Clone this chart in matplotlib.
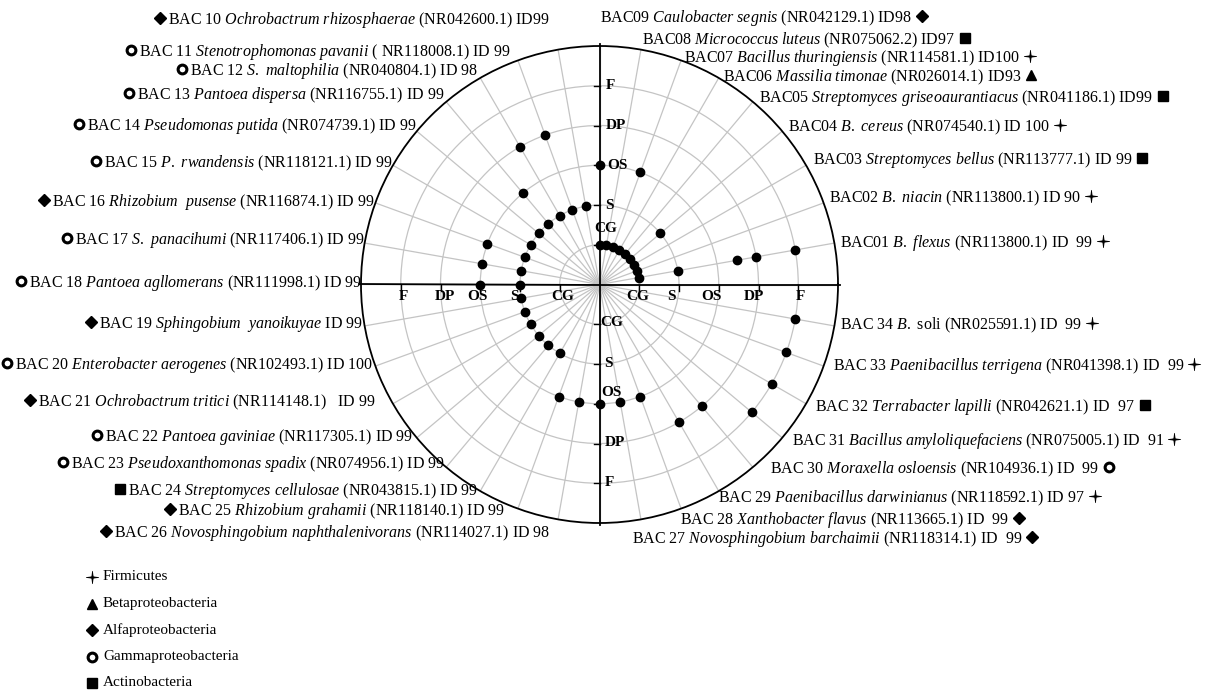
import numpy as np
import matplotlib.pyplot as plt
from matplotlib.path import Path

plt.rcParams['font.family'] = ['Liberation Serif', 'DejaVu Serif']
plt.rcParams['mathtext.fontset'] = 'custom'
plt.rcParams['mathtext.rm'] = 'Liberation Serif'
plt.rcParams['mathtext.it'] = 'Liberation Serif:italic'
plt.rcParams['mathtext.bf'] = 'Liberation Serif:bold'

# --- data -------------------------------------------------------------------
codes = ['BAC01', 'BAC02', 'BAC03', 'BAC04', 'BAC05', 'BAC06', 'BAC07', 'BAC08', 'BAC09',
         'BAC 10', 'BAC 11', 'BAC 12', 'BAC 13', 'BAC 14', 'BAC 15', 'BAC 16', 'BAC 17',
         'BAC 18', 'BAC 19', 'BAC 20', 'BAC 21', 'BAC 22', 'BAC 23', 'BAC 24', 'BAC 25',
         'BAC 26', 'BAC 27', 'BAC 28', 'BAC 29', 'BAC 30', 'BAC 31', 'BAC 32', 'BAC 33', 'BAC 34']
species = ['B. flexus', 'B. niacin', 'Streptomyces bellus', 'B. cereus',
           'Streptomyces griseoaurantiacus', 'Massilia timonae', 'Bacillus thuringiensis',
           'Micrococcus luteus', 'Caulobacter segnis', 'Ochrobactrum rhizosphaerae',
           'Stenotrophomonas pavanii', 'S. maltophilia', 'Pantoea dispersa', 'Pseudomonas putida',
           'P. rwandensis', 'Rhizobium  pusense', 'S. panacihumi', 'Pantoea agllomerans',
           'Sphingobium  yanoikuyae', 'Enterobacter aerogenes', 'Ochrobactrum tritici',
           'Pantoea gaviniae', 'Pseudoxanthomonas spadix', 'Streptomyces cellulosae',
           'Rhizobium grahamii', 'Novosphingobium naphthalenivorans', 'Novosphingobium barchaimii',
           'Xanthobacter flavus', 'Paenibacillus darwinianus', 'Moraxella osloensis',
           'Bacillus amyloliquefaciens', 'Terrabacter lapilli', 'Paenibacillus terrigena', 'B.']
species_tail = {'BAC 34': ' soli'}
accessions = ['(NR113800.1)', '(NR113800.1)', '(NR113777.1)', '(NR074540.1)', '(NR041186.1)',
              '(NR026014.1)', '(NR114581.1)', '(NR075062.2)', '(NR042129.1)', '(NR042600.1)',
              '( NR118008.1)', '(NR040804.1)', '(NR116755.1)', '(NR074739.1)', '(NR118121.1)',
              '(NR116874.1)', '(NR117406.1)', '(NR111998.1)', '', '(NR102493.1)',
              '(NR114148.1)', '(NR117305.1)', '(NR074956.1)', '(NR043815.1)', '(NR118140.1)',
              '(NR114027.1)', '(NR118314.1)', '(NR113665.1)', '(NR118592.1)', '(NR104936.1)',
              '(NR075005.1)', '(NR042621.1)', '(NR041398.1)', '(NR025591.1)']
identity = ['ID  99', 'ID 90', 'ID 99', 'ID 100', 'ID99', 'ID93', 'ID100', 'ID97', 'ID98',
            'ID99', 'ID 99', 'ID 98', 'ID 99', 'ID 99', 'ID 99', 'ID 99', 'ID 99', 'ID 99',
            'ID 99', 'ID 100', '   ID 99', 'ID 99', 'ID 99', 'ID 99', 'ID 99', 'ID 98',
            ' ID  99', ' ID  99', ' ID 97', ' ID  99', ' ID  91', ' ID  97', ' ID  99', ' ID  99']
phylum = ['Firmicutes', 'Firmicutes', 'Actinobacteria', 'Firmicutes', 'Actinobacteria',
          'Betaproteobacteria', 'Firmicutes', 'Actinobacteria', 'Alfaproteobacteria',
          'Alfaproteobacteria', 'Gammaproteobacteria', 'Gammaproteobacteria',
          'Gammaproteobacteria', 'Gammaproteobacteria', 'Gammaproteobacteria',
          'Alfaproteobacteria', 'Gammaproteobacteria', 'Gammaproteobacteria',
          'Alfaproteobacteria', 'Gammaproteobacteria', 'Alfaproteobacteria',
          'Gammaproteobacteria', 'Gammaproteobacteria', 'Actinobacteria', 'Alfaproteobacteria',
          'Alfaproteobacteria', 'Alfaproteobacteria', 'Alfaproteobacteria', 'Firmicutes',
          'Gammaproteobacteria', 'Firmicutes', 'Actinobacteria', 'Firmicutes', 'Firmicutes']
legend_order = ['Firmicutes', 'Betaproteobacteria', 'Alfaproteobacteria',
                'Gammaproteobacteria', 'Actinobacteria']

stages = ['CG', 'S', 'OS', 'DP', 'F']
# dots: spoke angle (deg) and stage level (1=CG ... 5=F)
dot_deg = [10, 10, 10, 10, 10, 20, 30, 40, 40, 50, 60, 70, 70, 80, 90, 90,
           100, 110, 110, 120, 120, 130, 130, 140, 150, 160, 160, 170, 170, 180, 180,
           190, 200, 210, 220, 230, 240, 250, 260, 270, 280, 290,
           300, 310, 320, 330, 340, 350]
dot_level = [1, 2, 3.5, 4, 5, 1, 1, 1, 2, 1, 1, 1, 3, 1, 1, 3,
             2, 2, 4, 2, 4, 2, 3, 2, 2, 2, 3, 2, 3, 2, 3,
             2, 2, 2, 2, 2, 2, 3, 3, 3, 3, 3,
             4, 4, 5, 5, 5, 5]

# --- layout -----------------------------------------------------------------
W, H = 1213, 691
cx, cy, unit = 599.5, 284.5, 39.75
rmax = 6
R = rmax * unit
fs = 11.5

# label anchors in pixels: (x, y, side)
label_pos = [(840, 243, 'r'), (829, 198, 'r'), (813, 160, 'r'), (788, 127, 'r'),
             (759, 98, 'r'), (723, 77, 'r'), (684, 58, 'r'), (642, 40, 'r'), (600, 18, 'r'),
             (550, 20, 'l'), (511, 52, 'l'), (478, 71, 'l'), (444, 95, 'l'), (417, 126, 'l'),
             (393, 163, 'l'), (375, 202, 'l'), (365, 240, 'l'), (362, 283, 'l'),
             (363, 324, 'l'), (373, 365, 'l'), (376, 402, 'l'), (413, 437, 'l'),
             (445, 464, 'l'), (478, 491, 'l'), (505, 511, 'l'), (550, 533, 'l'),
             (632, 539, 'r'), (680, 520, 'r'), (718, 498, 'r'), (770, 469, 'r'),
             (792, 441, 'r'), (815, 407, 'r'), (833, 366, 'r'), (840, 325, 'r')]
# stage label x nudges (px) on the right / left halves of the horizontal axis
right_nudge = [-2, -8, -7, -5, 2]
left_nudge = [3, -6, -3, 4, 3]

star = [(0.16 * np.sin(a) if i % 2 else np.sin(a), 0.16 * np.cos(a) if i % 2 else np.cos(a))
        for i, a in enumerate(np.radians(np.arange(0, 360, 45)))]
star = Path(np.array(star + [star[0]]), closed=True)
mstyle = {'Firmicutes': dict(marker=star, ms=9, mfc='black', mec='black', mew=0.5),
          'Betaproteobacteria': dict(marker='^', ms=7.5, mfc='black', mec='black'),
          'Alfaproteobacteria': dict(marker='D', ms=5.8, mfc='black', mec='black'),
          'Gammaproteobacteria': dict(marker='o', ms=6.3, mfc='white', mec='black', mew=2.2),
          'Actinobacteria': dict(marker='s', ms=7, mfc='black', mec='black')}

fig = plt.figure(figsize=(W / 100, H / 100), dpi=100)

# polar chart
axp = fig.add_axes([(cx - R) / W, (H - cy - R) / H, 2 * R / W, 2 * R / H], projection='polar')
axp.set_ylim(0, rmax)
axp.set_thetagrids(np.arange(0, 360, 10), labels=[''] * 36)
axp.set_rgrids([1, 2, 3, 4, 5], labels=[''] * 5)
axp.grid(color='#c4c4c4', lw=0.9)
axp.spines['polar'].set_linewidth(1.3)
axp.tick_params(axis='x', direction='inout', length=6, width=0.9, colors='black', pad=0)
axp.tick_params(axis='y', length=0)
for t in np.radians([0, 90, 180, 270]):
    axp.plot([t, t], [0, rmax + 0.05], color='black', lw=1.3, zorder=3, clip_on=False)
axp.plot(np.radians(dot_deg), dot_level, 'o', color='black', ms=6, zorder=4, clip_on=False)

# overlay for text
ax = fig.add_axes([0, 0, 1, 1], zorder=5)
ax.set_xlim(0, W)
ax.set_ylim(H, 0)
ax.axis('off')

# ring ticks and stage labels on the axes
bold = dict(fontsize=11, fontweight='bold', va='center')
for k, s in enumerate(stages, start=1):
    d = k * unit
    ax.plot([cx - 6, cx], [cy - d, cy - d], color='black', lw=1)
    ax.plot([cx - 6, cx], [cy + d, cy + d], color='black', lw=1)
    ax.plot([cx + d, cx + d], [cy, cy + 6], color='black', lw=1)
    ax.plot([cx - d, cx - d], [cy, cy + 6], color='black', lw=1)
    ax.text(cx + d + right_nudge[k - 1], cy + 12, s, ha='center', **bold)
    ax.text(cx - d + left_nudge[k - 1], cy + 12, s, ha='center', **bold)
    if s == 'CG':
        ax.text(cx + 6, cy - 1.4 * unit, s, ha='center', **bold)
        ax.text(cx + 1, cy + d - 2, s, ha='left', **bold)
    elif s == 'OS':
        ax.text(cx + 8, cy - d, s, ha='left', **bold)
        ax.text(cx + 2, cy + d - 11, s, ha='left', **bold)
    else:
        ax.text(cx + 6, cy - d, s, ha='left', **bold)
        ax.text(cx + 5, cy + d - 1, s, ha='left', **bold)


def it(s):
    return '$\\mathit{' + s.replace(' ', '\\ ') + '}$'


texts = []
for code, sp, acc, idt, (x, y, side) in zip(codes, species, accessions, identity, label_pos):
    parts = [code, it(sp) + species_tail.get(code, '')]
    if acc:
        parts.append(acc)
    sep = '' if idt.startswith(' ') else ' '
    label = ' '.join(parts) + sep + idt
    t = ax.text(x, y, label, fontsize=fs, va='center', ha='left' if side == 'r' else 'right')
    texts.append((t, side))

fig.canvas.draw()
rend = fig.canvas.get_renderer()
inv = ax.transData.inverted()
for (t, side), grp, (x, y, _) in zip(texts, phylum, label_pos):
    bb = t.get_window_extent(rend)
    x0, _ = inv.transform((bb.x0, bb.y0))
    x1, _ = inv.transform((bb.x1, bb.y0))
    mx = x1 + 10 if side == 'r' else x0 - 8
    ax.plot([mx], [y - 2], ls='none', **mstyle[grp])

# legend
for i, grp in enumerate(legend_order):
    ly = 577 + i * 26.5
    ax.plot([92], [ly], ls='none', **mstyle[grp])
    ax.text(103, ly, grp, fontsize=11, va='center', ha='left')

fig.savefig('out.png', dpi=100)
